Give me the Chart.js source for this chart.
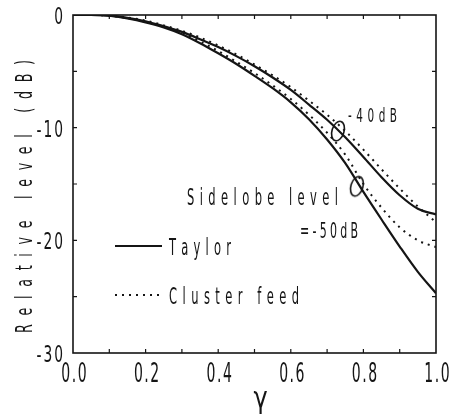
<!DOCTYPE html>
<html>
<head>
<meta charset="utf-8">
<script src="https://cdn.jsdelivr.net/npm/chart.js@4.4.1/dist/chart.umd.min.js"></script>
<style>
  html, body { margin: 0; padding: 0; background: #ffffff; }
  #wrap { width: 450px; height: 414px; position: relative; }
</style>
</head>
<body>
<div id="wrap"><canvas id="c" width="450" height="414"></canvas></div>
<script>
// Normalised aperture coordinate
const gamma = [0, 0.05, 0.1, 0.15, 0.2, 0.25, 0.3, 0.35, 0.4, 0.45, 0.5,
               0.55, 0.6, 0.65, 0.7, 0.75, 0.8, 0.85, 0.9, 0.95, 1.0];

// Aperture distributions, relative level in dB
const taylor40   = [0, 0, -0.05, -0.25, -0.55, -1.0, -1.5, -2.15, -2.85, -3.65, -4.55,
                    -5.55, -6.65, -7.95, -9.3, -10.85, -12.6, -14.4, -16.0, -17.2, -17.7];
const taylor50   = [0, 0, -0.05, -0.3, -0.65, -1.1, -1.7, -2.5, -3.4, -4.35, -5.4,
                    -6.5, -7.75, -9.25, -11.05, -13.15, -15.7, -18.15, -20.55, -22.8, -24.7];
const cluster40  = [0, 0, -0.05, -0.22, -0.5, -0.92, -1.4, -2.0, -2.7, -3.5, -4.4,
                    -5.35, -6.4, -7.6, -8.85, -10.3, -11.95, -13.7, -15.4, -17.0, -18.4];
const cluster50  = [0, 0, -0.05, -0.27, -0.6, -1.05, -1.6, -2.35, -3.2, -4.15, -5.15,
                    -6.25, -7.45, -8.85, -10.45, -12.4, -15.0, -17.1, -18.85, -20.0, -20.6];

// Sidelobe-level markers on the Taylor curves
const markGamma = [0.73, 0.782];
const markLevel = [-10.3, -15.2];

// Axis tick labels
const xTickLabels = ['0.0', '0.2', '0.4', '0.6', '0.8', '1.0'];
const yTickLabels = ['0', '-10', '-20', '-30'];

const xTitle = 'γ';
const yTitle = 'Relative level (dB)';
const seriesNames = ['Taylor', 'Cluster feed'];
const noteTexts = ['-40dB', 'Sidelobe level', '=-50dB'];

const INK = '#151515';
const FONT = '"DejaVu Sans", "Liberation Sans", sans-serif';

function pairs(xs, ys) { return xs.map((x, i) => ({ x: x, y: ys[i] })); }

// Narrow, letter-spaced text drawn glyph by glyph
function spacedText(ctx, text, x, y, o) {
  ctx.save();
  ctx.font = o.size + 'px ' + FONT;
  ctx.fillStyle = INK;
  ctx.textBaseline = 'alphabetic';
  const chars = Array.from(text);
  const sx = o.sx || 1;
  const widths = chars.map(c => ctx.measureText(c).width * sx);
  const natural = widths.reduce((a, b) => a + b, 0);
  let gap = o.spacing || 0;
  if (o.width && chars.length > 1) gap = (o.width - natural) / (chars.length - 1);
  const total = natural + gap * (chars.length - 1);
  let cx = o.align === 'center' ? -total / 2 : o.align === 'right' ? -total : 0;
  ctx.translate(x, y);
  if (o.rotate) ctx.rotate(o.rotate);
  chars.forEach((c, i) => {
    ctx.save();
    ctx.translate(cx, 0);
    ctx.scale(sx, 1);
    ctx.fillText(c, 0, 0);
    ctx.restore();
    cx += widths[i] + gap;
  });
  ctx.restore();
}

// Tilted elliptical marker used for the sidelobe-level points
function ellipseMark() {
  const cv = document.createElement('canvas');
  cv.width = 22; cv.height = 28;
  const g = cv.getContext('2d');
  g.strokeStyle = INK;
  g.lineWidth = 1.6;
  g.beginPath();
  g.ellipse(11, 14, 6, 10, 0.3, 0, Math.PI * 2);
  g.stroke();
  return cv;
}

const frameTicks = {
  id: 'frameTicks',
  afterDraw(chart) {
    const ctx = chart.ctx;
    const a = chart.chartArea;
    const xs = chart.scales.x, ys = chart.scales.y;
    ctx.save();
    ctx.strokeStyle = INK;
    ctx.lineWidth = 1.6;
    ctx.strokeRect(a.left, a.top, a.right - a.left, a.bottom - a.top);
    ctx.lineWidth = 1.2;
    const L = 4;
    xs.ticks.forEach(t => {
      const p = xs.getPixelForValue(t.value);
      if (p <= a.left + 1 || p >= a.right - 1) return;
      ctx.beginPath();
      ctx.moveTo(p, a.bottom); ctx.lineTo(p, a.bottom - L);
      ctx.moveTo(p, a.top); ctx.lineTo(p, a.top + L);
      ctx.stroke();
    });
    ys.ticks.forEach(t => {
      const p = ys.getPixelForValue(t.value);
      if (p <= a.top + 1 || p >= a.bottom - 1) return;
      ctx.beginPath();
      ctx.moveTo(a.left, p); ctx.lineTo(a.left + L, p);
      ctx.moveTo(a.right, p); ctx.lineTo(a.right - L, p);
      ctx.stroke();
    });
    ctx.restore();

    // tick labels
    xs.ticks.forEach(t => {
      const k = t.value / 0.2;
      if (Math.abs(k - Math.round(k)) > 1e-6) return;
      const p = xs.getPixelForValue(t.value);
      spacedText(ctx, xTickLabels[Math.round(k)], p + 1, a.bottom + 29, { size: 27, sx: 0.52, spacing: 1.5, align: 'center' });
    });
    ys.ticks.forEach(t => {
      const k = -t.value / 10;
      if (Math.abs(k - Math.round(k)) > 1e-6) return;
      const p = ys.getPixelForValue(t.value);
      spacedText(ctx, yTickLabels[Math.round(k)], a.left - 10, p + 9, { size: 23, sx: 0.6, spacing: 2, align: 'right' });
    });

    // axis titles
    spacedText(ctx, xTitle, (a.left + a.right) / 2 + 6, 408, { size: 30, sx: 0.8, align: 'center' });
    spacedText(ctx, yTitle, 32, 333, { size: 23, sx: 0.55, width: 273, rotate: -Math.PI / 2 });

    // legend, taken from the dataset labels and styles
    const seen = new Set();
    let row = 0;
    chart.data.datasets.forEach(ds => {
      if (!ds.label || seen.has(ds.label)) return;
      seen.add(ds.label);
      const yy = a.top + 231 + row * 49;
      ctx.save();
      ctx.strokeStyle = ds.borderColor;
      ctx.lineWidth = ds.borderWidth;
      ctx.setLineDash(ds.borderDash || []);
      ctx.beginPath();
      ctx.moveTo(a.left + 42, yy); ctx.lineTo(a.left + 89, yy);
      ctx.stroke();
      ctx.restore();
      const w = row === 0 ? 62 : 130;
      spacedText(ctx, ds.label, a.left + 96, yy + 9, { size: 23, sx: 0.5, width: w });
      row++;
    });

    // annotations near the markers
    spacedText(ctx, noteTexts[0], a.left + 275, a.top + 107, { size: 19, sx: 0.55, width: 49 });
    spacedText(ctx, noteTexts[1], a.left + 114, a.top + 190, { size: 23, sx: 0.5, width: 151 });
    spacedText(ctx, noteTexts[2], a.left + 227, a.top + 223, { size: 22, sx: 0.5, width: 58 });
  }
};

const solid = { borderColor: INK, borderWidth: 2.2, pointRadius: 0, fill: false, cubicInterpolationMode: 'monotone' };
const dotted = { borderColor: INK, borderWidth: 2, borderDash: [2, 5], pointRadius: 0, fill: false, cubicInterpolationMode: 'monotone' };

new Chart(document.getElementById('c'), {
  type: 'line',
  data: {
    datasets: [
      Object.assign({ label: seriesNames[0], data: pairs(gamma, taylor40) }, solid),
      Object.assign({ label: seriesNames[0], data: pairs(gamma, taylor50) }, solid),
      Object.assign({ label: seriesNames[1], data: pairs(gamma, cluster40) }, dotted),
      Object.assign({ label: seriesNames[1], data: pairs(gamma, cluster50) }, dotted),
      {
        label: '', data: pairs(markGamma, markLevel), showLine: false,
        pointStyle: ellipseMark(), pointRadius: 8, borderColor: INK, backgroundColor: 'transparent'
      }
    ]
  },
  options: {
    responsive: false,
    animation: false,
    devicePixelRatio: 1,
    layout: { padding: { top: 15, right: 14, left: 0, bottom: 0 } },
    plugins: { legend: { display: false }, tooltip: { enabled: false } },
    scales: {
      x: {
        type: 'linear', min: 0, max: 1,
        ticks: { stepSize: 0.1, display: false },
        grid: { display: false }, border: { display: false },
        afterFit(s) { s.height = 61; }
      },
      y: {
        type: 'linear', min: -30, max: 0,
        ticks: { stepSize: 5, display: false },
        grid: { display: false }, border: { display: false },
        afterFit(s) { s.width = 73; }
      }
    }
  },
  plugins: [frameTicks]
});
</script>
</body>
</html>
